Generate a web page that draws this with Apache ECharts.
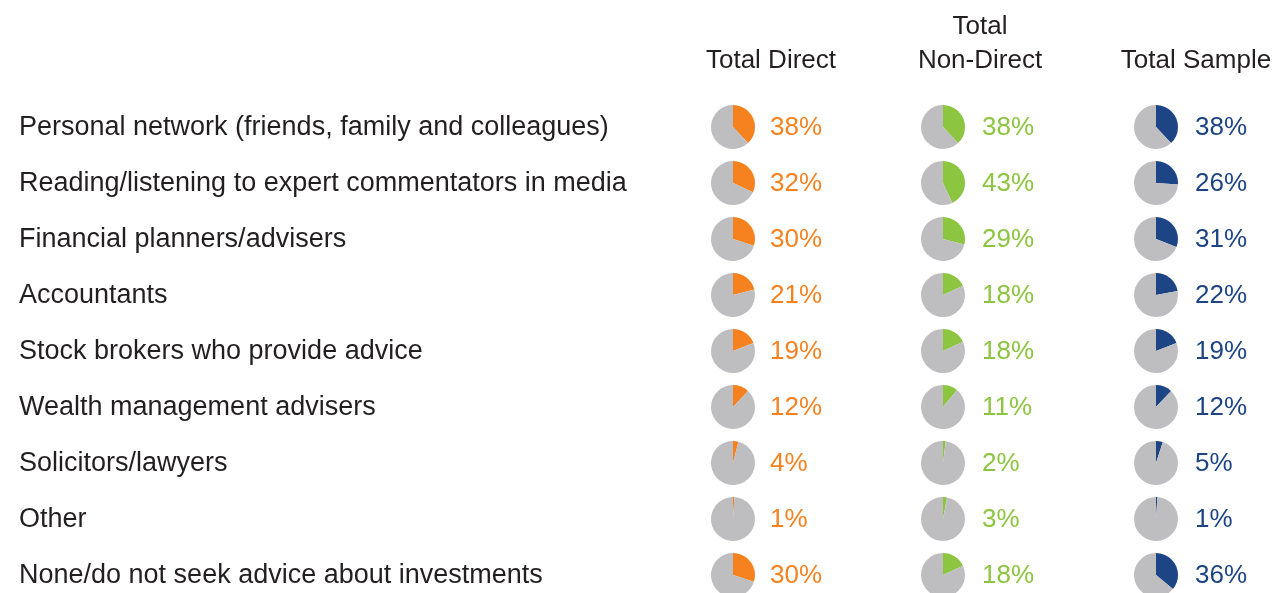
<!DOCTYPE html>
<html>
<head>
<meta charset="utf-8">
<script src="https://cdn.jsdelivr.net/npm/echarts@6/dist/echarts.min.js"></script>
<style>
  html, body { margin: 0; padding: 0; background: #ffffff; }
  #chart { width: 1275px; height: 593px; }
</style>
</head>
<body>
<div id="chart"></div>
<script>
// Sources of advice about investments, share of respondents (%)
const categories = [
  'Personal network (friends, family and colleagues)',
  'Reading/listening to expert commentators in media',
  'Financial planners/advisers',
  'Accountants',
  'Stock brokers who provide advice',
  'Wealth management advisers',
  'Solicitors/lawyers',
  'Other',
  'None/do not seek advice about investments'
];
const groupNames = [['Total Direct'], ['Total', 'Non-Direct'], ['Total Sample']];
const totalDirect    = [38, 32, 30, 21, 19, 12, 4, 1, 30];
const totalNonDirect = [38, 43, 29, 18, 18, 11, 2, 3, 18];
const totalSample    = [38, 26, 31, 22, 19, 12, 5, 1, 36];

const groups = [totalDirect, totalNonDirect, totalSample];
const groupColors = ['#F5821F', '#8CC540', '#1D4585'];
const restColor = '#BEBEC1';
const textColor = '#231F20';
const fontFamily = 'Liberation Sans, Arial, Helvetica, sans-serif';

// layout
const rowTop = 127, rowStep = 56;
const pieX = [733, 943, 1156];
const labelX = [770, 982, 1195];
const headerX = [771, 980, 1196];
const headerLineY = 61, headerLineStep = 34;
const pieRadius = 22;
const textNudge = 1;

const chart = echarts.init(document.getElementById('chart'), null, { renderer: 'canvas' });

const series = [];
const graphics = [];

categories.forEach((name, i) => {
  const y = rowTop + i * rowStep;
  graphics.push({
    type: 'text', x: 19, y: y + textNudge, silent: true,
    style: { text: name, fill: textColor, font: '27px ' + fontFamily, textVerticalAlign: 'middle' }
  });
  groups.forEach((vals, g) => {
    series.push({
      type: 'pie',
      silent: true,
      animation: false,
      radius: [0, pieRadius],
      center: [pieX[g], y],
      startAngle: 90,
      clockwise: true,
      label: { show: false },
      labelLine: { show: false },
      itemStyle: { borderWidth: 0 },
      data: [
        { value: vals[i], itemStyle: { color: groupColors[g] } },
        { value: 100 - vals[i], itemStyle: { color: restColor } }
      ]
    });
    graphics.push({
      type: 'text', x: labelX[g], y: y + textNudge, silent: true,
      style: { text: vals[i] + '%', fill: groupColors[g], font: '26px ' + fontFamily, textVerticalAlign: 'middle' }
    });
  });
});

// column headers, last line sits on a common row
groupNames.forEach((lines, g) => {
  lines.forEach((line, k) => {
    graphics.push({
      type: 'text', x: headerX[g], y: headerLineY - (lines.length - 1 - k) * headerLineStep, silent: true,
      style: {
        text: line, fill: textColor, font: '26px ' + fontFamily,
        textAlign: 'center', textVerticalAlign: 'middle'
      }
    });
  });
});

chart.setOption({
  backgroundColor: '#ffffff',
  animation: false,
  series: series,
  graphic: graphics
});
</script>
</body>
</html>
